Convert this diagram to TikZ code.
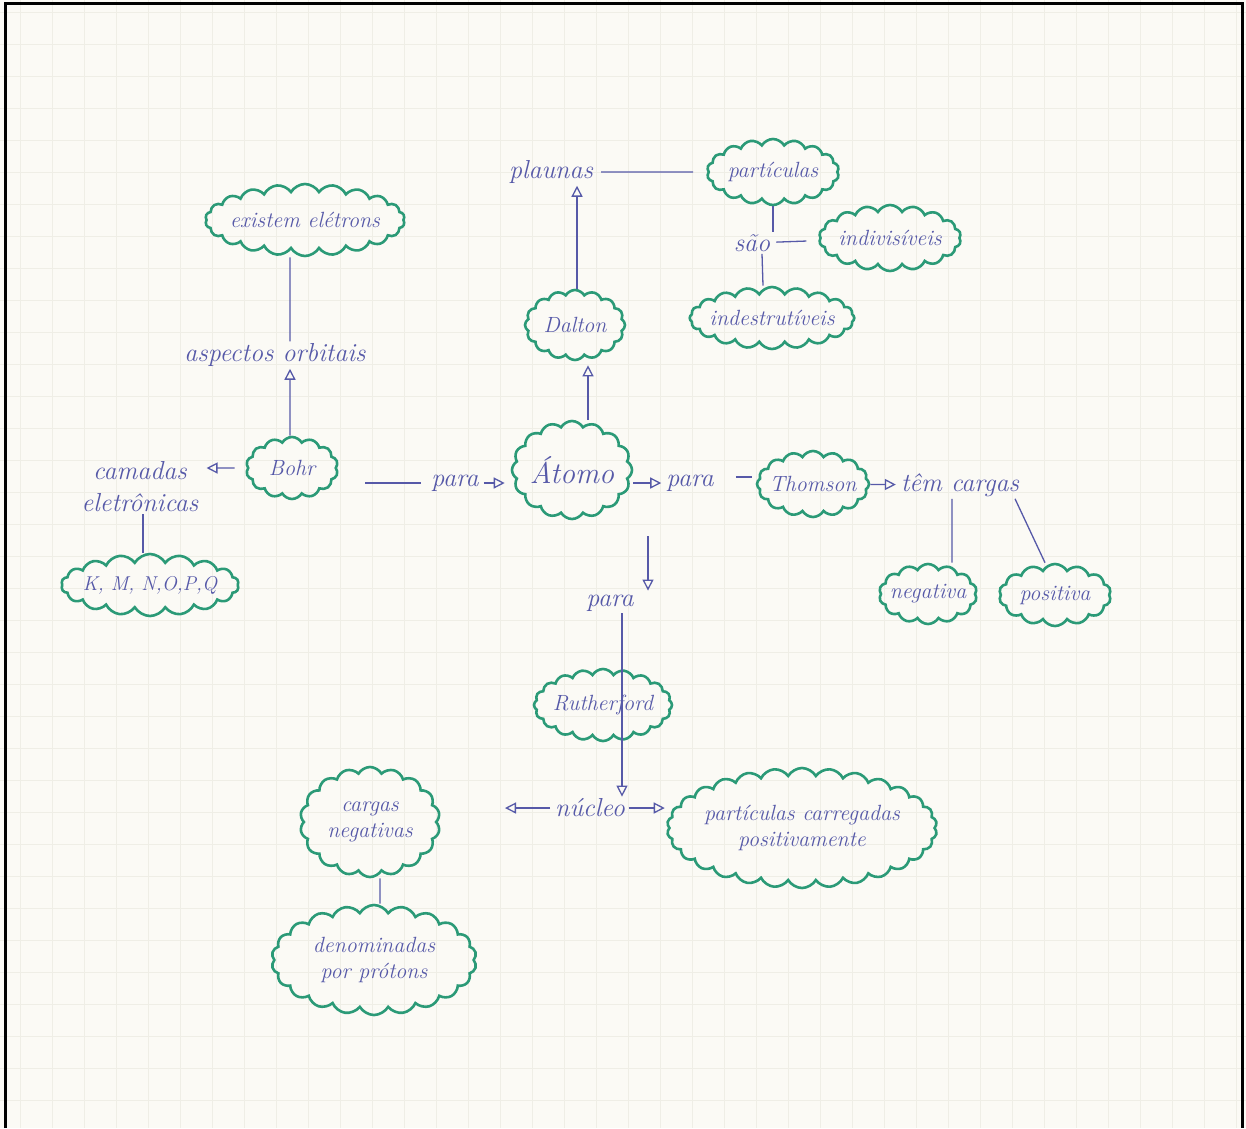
\documentclass[tikz,border=0pt]{standalone}
\usepackage{tikz}
\usetikzlibrary{arrows.meta,positioning,shapes.symbols}
\definecolor{tinta}{HTML}{5659A8}
\definecolor{verde}{HTML}{2B9A77}
\definecolor{papel}{HTML}{FBFAF5}
\definecolor{grade}{HTML}{EFEEE6}
\tikzset{
  ar/.style={-{Triangle[open,length=11pt,width=11pt]},tinta,line width=1.3pt},
  ln/.style={tinta,line width=1.3pt},
  nuvem/.style={cloud,cloud puffs=#1,cloud puff arc=120,cloud ignores aspect,draw=verde,line width=2.6pt,text=tinta,align=center,font=\fontsize{22}{26}\selectfont\itshape,inner sep=-4pt},
  nuvem/.default=20,
  txt/.style={text=tinta,align=center,font=\fontsize{26}{32}\selectfont\itshape,inner sep=2pt}
}

\begin{document}
\begin{tikzpicture}[x=1pt,y=-1pt]
\useasboundingbox (0,0) rectangle (1246,1128);
\fill[papel] (0,0) rectangle (1246,1128);
\foreach \gx in {20,52,...,1246} \draw[grade,line width=0.6pt] (\gx,0) -- (\gx,1128);
\foreach \gy in {12,44,...,1128} \draw[grade,line width=0.6pt] (0,\gy) -- (1246,\gy);
\draw[line width=3pt] (5,1128) -- (5,3) -- (1242,3) -- (1242,1128);
% Dalton
\node[txt] (plaunas) at (551,172) {plaunas};
\node[nuvem=18,minimum width=132pt,minimum height=66pt] (particulas) at (773,172) {partículas};
\node[txt] (sao) at (752,243) {são};
\node[nuvem=18,minimum width=142pt,minimum height=66pt] (indivisiveis) at (890,238) {indivisíveis};
\node[nuvem=20,minimum width=148pt,minimum height=62pt] (indestrutiveis) at (772,318) {indestrutíveis};
\node[nuvem=16,minimum width=100pt,minimum height=70pt] (dalton) at (575,325) {Dalton};
% Bohr
\node[nuvem=22,minimum width=182pt,minimum height=72pt] (existem) at (305,220) {existem elétrons};
\node[txt] (aspectos) at (275,355) {aspectos orbitais};
\node[nuvem=14,minimum width=92pt,minimum height=62pt] (bohr) at (292,468) {Bohr};
\node[txt] (camadas) at (140,487) {camadas\\eletrônicas};
\node[nuvem=18,minimum width=142pt,minimum height=62pt,font=\fontsize{20}{24}\selectfont\itshape] (kmnopq) at (150,585) {K, M, N,O,P,Q};
% centro
\node[txt] (para1) at (455,483) {para};
\node[nuvem=16,minimum width=120pt,minimum height=98pt,font=\fontsize{30}{34}\selectfont\itshape] (atomo) at (572,470) {Átomo};
\node[txt] (para2) at (690,483) {para};
\node[nuvem=16,minimum width=112pt,minimum height=66pt] (thomson) at (813,484) {Thomson};
\node[txt] (temcargas) at (960,485) {têm cargas};
\node[nuvem=14,minimum width=98pt,minimum height=60pt] (negativa) at (928,594) {negativa};
\node[nuvem=14,minimum width=112pt,minimum height=62pt] (positiva) at (1055,595) {positiva};
% Rutherford
\node[txt] (para3) at (610,603) {para};
\node[nuvem=20,minimum width=138pt,minimum height=72pt] (rutherford) at (603,705) {Rutherford};
\node[txt] (nucleo) at (590,808) {núcleo};
\coordinate (nesq) at (505,808);
\node[nuvem=30,minimum width=270pt,minimum height=120pt] (carregadas) at (802,828) {partículas carregadas\\positivamente};
\node[nuvem=18,minimum width=140pt,minimum height=110pt] (cargasneg) at (370,822) {cargas\\negativas};
\node[nuvem=22,minimum width=205pt,minimum height=110pt] (denominadas) at (374,960) {denominadas\\por prótons};
% ligacoes
\draw[ln,shorten <=6pt,shorten >=14pt] (plaunas) -- (particulas);
\draw[ar] ([xshift=2pt]dalton.north) -- ([xshift=26pt]plaunas.south);
\draw[ln] (particulas.south) -- (sao.north -| particulas.south);
\draw[ln,shorten <=4pt,shorten >=12pt] (sao) -- (indivisiveis);
\draw[ln] ([xshift=10pt]sao.south) -- ([xshift=-9pt]indestrutiveis.north);
\draw[ar] ([xshift=16pt]atomo.north) -- ([xshift=13pt,yshift=-4pt]dalton.south);
\draw[ln] ([xshift=-15pt]existem.south) -- ([xshift=15pt]aspectos.north);
\draw[ar] ([xshift=-2pt]bohr.north) -- ([xshift=15pt]aspectos.south);
\draw[ar,shorten <=12pt,shorten >=6pt] (bohr) -- (bohr -| camadas.east);
\draw[ln] ([xshift=3pt]camadas.south) -- ([xshift=-7pt]kmnopq.north);
\draw[ln,shorten <=28pt,shorten >=8pt] (bohr.east |- para1) -- (para1);
\draw[ar,shorten <=3pt,shorten >=6pt] (para1) -- (para1 -| atomo.west);
\draw[ar,shorten >=3pt] (atomo.east |- para2) -- (para2);
\draw[ln,shorten <=20pt,shorten >=4pt] ([yshift=6pt]para2.east) -- ([yshift=6pt]para2 -| thomson.west);
\draw[ar,shorten >=3pt] (thomson) -- (temcargas);
\draw[ln] ([xshift=-8pt]temcargas.south) -- ([xshift=24pt]negativa.north);
\draw[ln] ([xshift=55pt]temcargas.south) -- ([xshift=-10pt]positiva.north);
\draw[ar] ([xshift=76pt,yshift=-16pt]atomo.south) -- ([xshift=38pt,yshift=2pt]para3.north);
\draw[ln] ([xshift=12pt]para3.south) -- ([xshift=19pt]rutherford.center);
\draw[ar] ([xshift=19pt]rutherford.center) -- ([xshift=32pt]nucleo.north);
\draw[ar,shorten <=3pt] (nucleo) -- (nesq);
\draw[ar,shorten <=2pt,shorten >=3pt] (nucleo) -- (nucleo -| carregadas.west);
\draw[ln] ([xshift=10pt]cargasneg.south) -- ([xshift=6pt]denominadas.north);
\end{tikzpicture}
\end{document}
